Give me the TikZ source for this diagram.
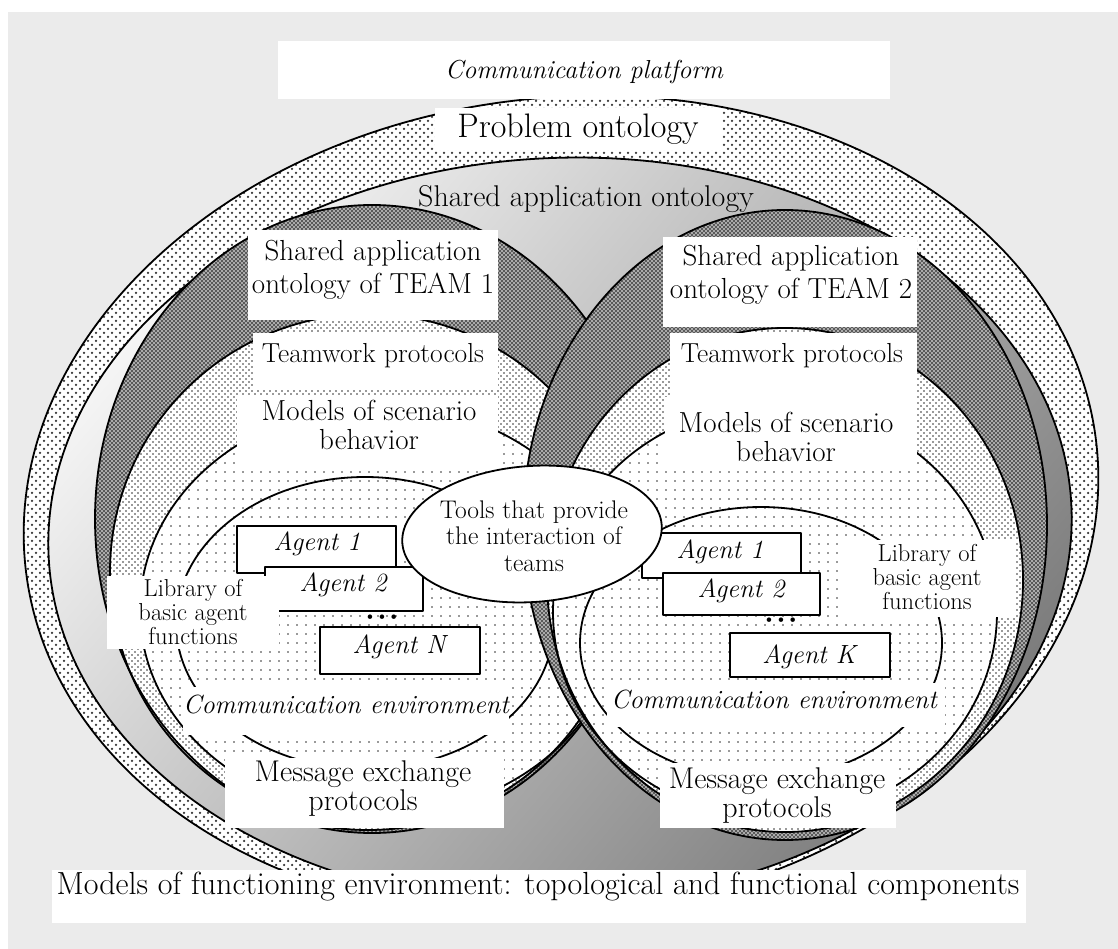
\documentclass[tikz,border=0pt]{standalone}
\usetikzlibrary{patterns,shapes.geometric}
\pgfdeclarepatternformonly{ringdots}{\pgfqpoint{-1.5pt}{-1.5pt}}{\pgfqpoint{5.5pt}{5.5pt}}{\pgfqpoint{8pt}{8pt}}{%
  \pgfpathcircle{\pgfqpoint{0pt}{0pt}}{1.25pt}%
  \pgfpathcircle{\pgfqpoint{4pt}{4pt}}{1.25pt}%
  \pgfusepath{fill}}
\pgfdeclarepatternformonly{crossdots}{\pgfqpoint{-1pt}{-1pt}}{\pgfqpoint{3pt}{3pt}}{\pgfqpoint{4pt}{4pt}}{%
  \pgfpathcircle{\pgfqpoint{0pt}{0pt}}{0.8pt}%
  \pgfpathcircle{\pgfqpoint{2pt}{2pt}}{0.8pt}%
  \pgfusepath{fill}}
\pgfdeclarepatternformonly{densedots}{\pgfqpoint{-1pt}{-1pt}}{\pgfqpoint{4pt}{4pt}}{\pgfqpoint{6pt}{6pt}}{%
  \pgfpathcircle{\pgfqpoint{0pt}{0pt}}{0.8pt}%
  \pgfpathcircle{\pgfqpoint{3pt}{3pt}}{0.8pt}%
  \pgfusepath{fill}}
\pgfdeclarepatternformonly{sparsedots}{\pgfqpoint{-1.5pt}{-1.5pt}}{\pgfqpoint{1.5pt}{1.5pt}}{\pgfqpoint{9pt}{9pt}}{%
  \pgfpathcircle{\pgfqpoint{0pt}{0pt}}{0.95pt}%
  \pgfusepath{fill}}
\definecolor{bggray}{HTML}{EBEBEB}
\definecolor{hatchgray}{HTML}{5A5A5A}
\begin{document}
\begin{tikzpicture}[x=1pt,y=-1pt,line join=round,
  outl/.style={draw=black,line width=1.8pt},
  ringfill/.style={pattern=ringdots,pattern color=black!80},
  hatchfill/.style={pattern=crossdots,pattern color=white},
  densefill/.style={pattern=densedots,pattern color=black!80},
  sparsefill/.style={pattern=sparsedots,pattern color=black!80},
  box/.style={fill=white,inner sep=0pt},
  agentbox/.style={fill=white,draw=black,line width=2pt,inner sep=0pt},
  txt/.style={inner sep=0pt,align=center},
  fbig/.style={font=\fontsize{34}{38}\selectfont},
  fshared/.style={font=\fontsize{30}{34}\selectfont},
  fmid/.style={font=\fontsize{29}{33}\selectfont},
  fmod/.style={font=\fontsize{29}{29.5}\selectfont},
  fteam/.style={font=\fontsize{27.5}{30}\selectfont},
  flib/.style={font=\fontsize{24.5}{24}\selectfont},
  fagent/.style={font=\fontsize{26.3}{28}\selectfont\itshape},
  fplat/.style={font=\fontsize{26}{28}\selectfont\itshape},
  fmsg/.style={font=\fontsize{30}{29}\selectfont},
  ftool/.style={font=\fontsize{25.5}{26.5}\selectfont},
  fbot/.style={font=\fontsize{32}{34}\selectfont},
  fdots/.style={font=\fontsize{20}{20}\selectfont}]
\useasboundingbox (0,0) rectangle (1118,949);
\fill[bggray] (8,12) rectangle (1118,949);
% Problem ontology ring
\begin{scope}[rotate around={7:(561,506)}]
\path[fill=white] (561,506) ellipse [x radius=539, y radius=408];
\path[ringfill] (561,506) ellipse [x radius=539, y radius=408];
\end{scope}
% Shared application ontology
\begin{scope}[rotate around={3:(560,531)}]
\shade[top color=black!4, bottom color=black!52, shading angle=50] (560,531) ellipse [x radius=512, y radius=373];
\draw[outl] (560,531) ellipse [x radius=512, y radius=373];
\end{scope}
\draw[outl,rotate around={7:(561,506)}] (561,506) ellipse [x radius=539, y radius=408];
% TEAM 1
\path[fill=hatchgray] (372,519) ellipse [x radius=277, y radius=314];
\path[hatchfill] (372,519) ellipse [x radius=277, y radius=314];
\path[fill=white] (368,572) ellipse [x radius=258, y radius=258];
\path[densefill] (368,572) ellipse [x radius=258, y radius=258];
\path[fill=white] (380,610) ellipse [x radius=240, y radius=205];
\path[sparsefill] (380,610) ellipse [x radius=240, y radius=205];
\draw[outl] (372,519) ellipse [x radius=277, y radius=314];
\draw[outl] (368,572) ellipse [x radius=258, y radius=258];
\draw[outl] (380,610) ellipse [x radius=240, y radius=205];
\draw[outl] (365,623) ellipse [x radius=189, y radius=146];
% TEAM 2
\path[fill=hatchgray] (785,525) ellipse [x radius=262, y radius=315];
\path[hatchfill] (785,525) ellipse [x radius=262, y radius=315];
\path[fill=white] (785,580) ellipse [x radius=238, y radius=252];
\path[densefill] (785,580) ellipse [x radius=238, y radius=252];
\path[fill=white] (775,612) ellipse [x radius=222, y radius=207];
\path[sparsefill] (775,612) ellipse [x radius=222, y radius=207];
\draw[outl] (785,525) ellipse [x radius=262, y radius=315];
\draw[outl] (785,580) ellipse [x radius=238, y radius=252];
\draw[outl] (775,612) ellipse [x radius=222, y radius=207];
\draw[outl] (761,643) ellipse [x radius=181, y radius=136];
% label boxes
\node[box,minimum width=612pt,minimum height=58pt] (bplat) at (584,70) {};
\node[txt,fplat,anchor=base] (tplat) at (584,79) {Communication platform};
\node[box,minimum width=287pt,minimum height=42pt] (bprob) at (578,129) {};
\node[txt,fbig,anchor=base] (tprob) at (578,138) {Problem ontology};
\node[txt,fshared,anchor=base] (tshared) at (586,207) {Shared application ontology};
\node[box,minimum width=250pt,minimum height=90pt] (bt1) at (373,275) {};
\node[txt,fmid] (tt1) at (373,270) {Shared application\\ontology of TEAM 1};
\node[box,minimum width=254pt,minimum height=90pt] (bt2) at (790,282) {};
\node[txt,fmid] (tt2) at (791,275) {Shared application\\ontology of TEAM 2};
\node[box,minimum width=245pt,minimum height=57pt] (bw1) at (375,361) {};
\node[txt,fteam,anchor=base] (tw1) at (373,362) {Teamwork protocols};
\node[box,minimum width=247pt,minimum height=64pt] (bw2) at (793,365) {};
\node[txt,fteam,anchor=base] (tw2) at (792,362) {Teamwork protocols};
\node[box,minimum width=261pt,minimum height=75pt] (bm1) at (367,432) {};
\node[txt,fmod] (tm1) at (369,425) {Models of scenario\\behavior};
\node[box,minimum width=252pt,minimum height=70pt] (bm2) at (791,432) {};
\node[txt,fmod] (tm2) at (786,437) {Models of scenario\\behavior};
% TEAM 1 agents
\node[agentbox,minimum width=159pt,minimum height=47pt] (a11) at (316.5,549.5) {};
\node[txt,fagent,anchor=base] (ta11) at (317,550) {Agent 1};
\node[agentbox,minimum width=158pt,minimum height=44pt] (a12) at (344,589) {};
\node[txt,fagent,anchor=base] (ta12) at (343,591) {Agent 2};
\node[box,minimum width=172pt,minimum height=73pt] (bl1) at (193,612.5) {};
\node[txt,flib] (tl1) at (193,612) {Library of\\basic agent\\functions};
\node[txt,fdots] (d1) at (382,619) {\textbullet\kern-2.5pt\textbullet\kern-2.5pt\textbullet};
\node[agentbox,minimum width=160pt,minimum height=47pt] (a1n) at (400,650.5) {};
\node[txt,fagent,anchor=base] (ta1n) at (399,653) {Agent N};
% TEAM 2 agents
\node[agentbox,minimum width=159pt,minimum height=45pt] (a21) at (721.5,555.5) {};
\node[txt,fagent,anchor=base] (ta21) at (720,558) {Agent 1};
\node[agentbox,minimum width=157pt,minimum height=42pt] (a22) at (741.5,594) {};
\node[txt,fagent,anchor=base] (ta22) at (741,597) {Agent 2};
\node[txt,fdots] (d2) at (781,622) {\textbullet\kern-2.5pt\textbullet\kern-2.5pt\textbullet};
\node[agentbox,minimum width=160pt,minimum height=44pt] (a2k) at (810,655) {};
\node[txt,fagent,anchor=base] (ta2k) at (809,663) {Agent K};
\node[box,minimum width=177pt,minimum height=77pt] (bl2) at (926.5,578.5) {};
\node[txt,flib] (tl2) at (927,577) {Library of\\basic agent\\functions};
% tools ellipse
\node[draw=black,line width=1.8pt,fill=white,ellipse,minimum width=260pt,minimum height=136pt,inner sep=0pt,rotate=4] (tools) at (532,534) {};
\node[txt,ftool] (ttools) at (534,536) {Tools that provide\\the interaction of\\teams};
% communication environments
\node[box,minimum width=326pt,minimum height=48pt] (bc1) at (346,711) {};
\node[txt,fagent,anchor=base] (tc1) at (346,713) {Communication environment};
\node[box,minimum width=338pt,minimum height=44pt] (bc2) at (776,705) {};
\node[txt,fagent,anchor=base] (tc2) at (774,708) {Communication environment};
% message exchange
\node[box,minimum width=279pt,minimum height=70pt] (bx1) at (364.5,793) {};
\node[txt,fmsg] (tx1) at (363,789) {Message exchange\\protocols};
\node[box,minimum width=236pt,minimum height=65pt] (bx2) at (778,795.5) {};
\node[txt,fmsg] (tx2) at (777,796) {Message exchange\\protocols};
% bottom
\node[box,minimum width=974pt,minimum height=53pt] (bbot) at (539,896.5) {};
\node[txt,fbot,anchor=base] (tbot) at (538,894) {Models of functioning environment: topological and functional components};
\end{tikzpicture}
\end{document}
